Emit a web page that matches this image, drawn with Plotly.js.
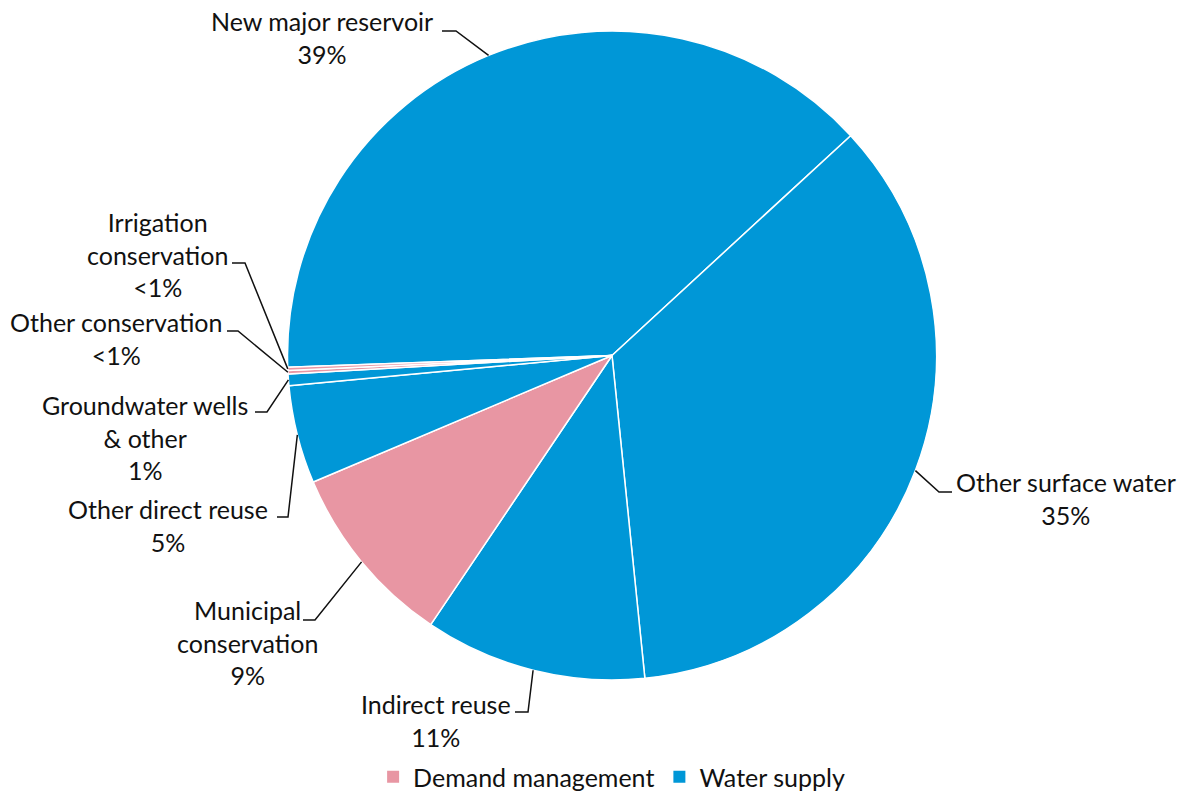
<!DOCTYPE html>
<html>
<head>
<meta charset="utf-8">
<script src="https://cdn.plot.ly/plotly-3.0.1.min.js"></script>
<style>html,body{margin:0;padding:0;background:#fff;}#chart{width:1183px;height:800px;}</style>
</head>
<body>
<div id="chart"></div>
<script>
// ---- data ----
const labels = ['New major reservoir', 'Other surface water', 'Indirect reuse', 'Municipal conservation',
                'Other direct reuse', 'Groundwater wells & other', 'Other conservation', 'Irrigation conservation'];
const displayLabels = ['New major reservoir', 'Other surface water', 'Indirect reuse', 'Municipal<br>conservation',
                'Other direct reuse', 'Groundwater wells<br>& other', 'Other conservation', 'Irrigation<br>conservation'];
const values = [38.73, 35.23, 11.05, 9.19, 4.89, 0.58, 0.17, 0.16];
const pctLabels = ['39%', '35%', '11%', '9%', '5%', '1%', '<1%', '<1%'];
const groups = ['Water supply', 'Water supply', 'Water supply', 'Demand management',
                'Water supply', 'Water supply', 'Demand management', 'Demand management'];
const legendGroups = ['Demand management', 'Water supply'];

// ---- style ----
const W = 1183, H = 800;
const groupColors = {'Demand management': '#E896A3', 'Water supply': '#0097D7'};
const FONT = 'Lato, "Open Sans", sans-serif';
const FS = 25;
const ROTATION = -92.07;
// pie domain in pixels
const pieLeft = 287.5, pieRight = 936.5, pieTop = 31, pieBottom = 680;
const cx = (pieLeft + pieRight) / 2, cy = (pieTop + pieBottom) / 2;
const R = Math.min(pieRight - pieLeft, pieBottom - pieTop) / 2;

// label placement (pixels): text centre, horizontal leader y and x-range
const labelPos = [
  {tx: 322,  ty: 38,  hy: 31,  h0: 442, h1: 456},
  {tx: 1066, ty: 498, hy: 492, h0: 952, h1: 939},
  {tx: 436,  ty: 720, hy: 712, h0: 515, h1: 528},
  {tx: 247,  ty: 642, hy: 620, h0: 303, h1: 315},
  {tx: 168,  ty: 525, hy: 517, h0: 277, h1: 288},
  {tx: 145,  ty: 437, hy: 412, h0: 255, h1: 267},
  {tx: 116,  ty: 338, hy: 331, h0: 227, h1: 238},
  {tx: 157,  ty: 255, hy: 263, h0: 232, h1: 245}
];

const px = x => x / W;
const py = y => 1 - y / H;

const total = values.reduce((a, b) => a + b, 0);
let cum = 0;
const annotations = [];
const shapes = [];
values.forEach((v, i) => {
  const mid = ROTATION + 360 * (cum + v / 2) / total;
  cum += v;
  const th = mid * Math.PI / 180;
  const ax = cx + R * Math.sin(th);
  const ay = cy - R * Math.cos(th);
  const p = labelPos[i];
  annotations.push({
    xref: 'paper', yref: 'paper', x: px(p.tx), y: py(p.ty),
    xanchor: 'center', yanchor: 'middle', showarrow: false, align: 'center',
    text: displayLabels[i] + '<br>' + pctLabels[i],
    font: {family: FONT, size: FS, color: '#111'}
  });
  shapes.push({
    type: 'path', xref: 'paper', yref: 'paper',
    path: `M ${px(p.h0)},${py(p.hy)} L ${px(p.h1)},${py(p.hy)} L ${px(ax)},${py(ay)}`,
    line: {color: '#111', width: 1.5}
  });
});

const pieTrace = {
  type: 'pie',
  labels: labels,
  values: values,
  sort: false,
  direction: 'clockwise',
  rotation: ROTATION,
  textinfo: 'none',
  hoverinfo: 'label+percent',
  showlegend: false,
  marker: {colors: groups.map(g => groupColors[g]), line: {color: '#ffffff', width: 1.5}},
  domain: {x: [px(pieLeft), px(pieRight)], y: [py(pieBottom), py(pieTop)]}
};

const legendTraces = legendGroups.map(g => ({
  type: 'scatter', mode: 'markers', name: g, x: [null], y: [null],
  marker: {symbol: 'square', size: 12, color: groupColors[g]},
  hoverinfo: 'skip'
}));

const layout = {
  width: W, height: H,
  margin: {l: 0, r: 0, t: 0, b: 0},
  paper_bgcolor: '#fff', plot_bgcolor: '#fff',
  xaxis: {visible: false}, yaxis: {visible: false},
  showlegend: true,
  legend: {orientation: 'h', x: 0.517, xanchor: 'center', y: 0, yanchor: 'bottom',
           font: {family: FONT, size: FS, color: '#111'}, bgcolor: 'rgba(0,0,0,0)'},
  annotations: annotations,
  shapes: shapes
};

Plotly.newPlot('chart', [pieTrace].concat(legendTraces), layout, {displayModeBar: false, staticPlot: true});
</script>
</body>
</html>
